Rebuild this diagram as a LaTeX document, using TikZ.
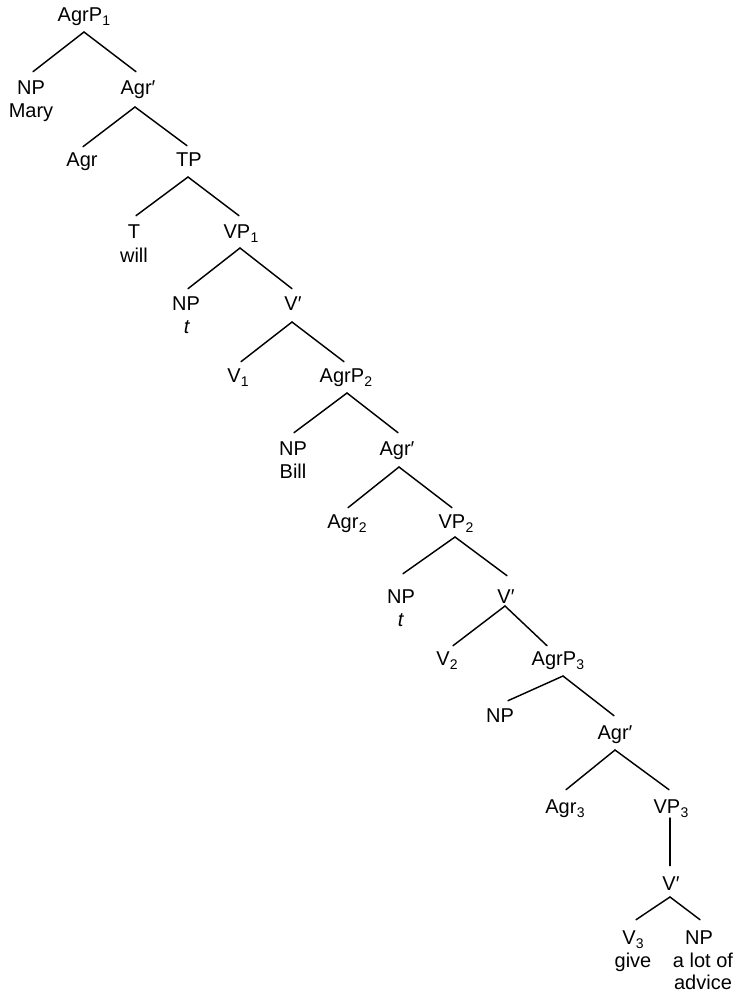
\documentclass[tikz,border=0pt]{standalone}
\usepackage{fontspec}
\setmainfont{Liberation Sans}
\newcommand{\lsub}[1]{\kern0.3pt\raisebox{-4pt}{\fontsize{14}{14}\selectfont #1}}
\begin{document}
\begin{tikzpicture}[x=1pt,y=-1pt,
  cat/.style={font=\fontsize{20}{24}\selectfont, inner sep=0pt, outer sep=0pt,
              text height=14.3pt, text depth=0pt, anchor=base},
  word/.style={font=\fontsize{20}{24}\selectfont, inner sep=0pt, anchor=base},
  branch/.style={line width=1.45pt, line cap=round}]
\useasboundingbox (0,0) rectangle (739,992);

% category labels
\node[cat] (agrp1) at (84,22)  {AgrP\lsub{1}};
\node[cat] (np1)   at (31,95)  {NP};
\node[cat] (agrb1) at (138,95) {Agr′};
\node[cat] (agr1)  at (82,167) {Agr};
\node[cat] (tp)    at (189,167){TP};
\node[cat] (tt)    at (134,238){T};
\node[cat] (vp1)   at (241,238){VP\lsub{1}};
\node[cat] (np2)   at (186,310){NP};
\node[cat] (vb1)   at (293,310){V′};
\node[cat] (v1)    at (238,382){V\lsub{1}};
\node[cat] (agrp2) at (346,382){AgrP\lsub{2}};
\node[cat] (np3)   at (293,455){NP};
\node[cat] (agrb2) at (397,455){Agr′};
\node[cat] (agr2)  at (347,528){Agr\lsub{2}};
\node[cat] (vp2)   at (456,528){VP\lsub{2}};
\node[cat] (np4)   at (401,603){NP};
\node[cat] (vb2)   at (506,603){V′};
\node[cat] (v2)    at (447,665){V\lsub{2}};
\node[cat] (agrp3) at (558,665){AgrP\lsub{3}};
\node[cat] (np5)   at (500,722){NP};
\node[cat] (agrb3) at (615,739){Agr′};
\node[cat] (agr3)  at (565,813){Agr\lsub{3}};
\node[cat] (vp3)   at (671,813){VP\lsub{3}};
\node[cat] (vb3)   at (671,890){V′};
\node[cat] (v3)    at (633,944){V\lsub{3}};
\node[cat] (np6)   at (699,944){NP};

% lexical material under the phrases
\node[word] (mary)   at (31,118)  {Mary};
\node[word] (will)   at (134,262) {will};
\node[word] (trace1) at (187,333) {\textit{t}};
\node[word] (bill)   at (293,478) {Bill};
\node[word] (trace2) at (401,626) {\textit{t}};
\node[word] (give)   at (633,967) {give};
\node[word] (alot)   at (703,967) {a lot of};
\node[word] (advice) at (703,989) {advice};

% branches
\draw[branch] ([yshift=-10pt]agrp1.south) -- ([xshift=2pt,yshift=9pt]np1.north);
\draw[branch] ([yshift=-10pt]agrp1.south) -- ([xshift=-2pt,yshift=9pt]agrb1.north);
\draw[branch] ([xshift=-3pt,yshift=-12pt]agrb1.south) -- ([xshift=1pt,yshift=6pt]agr1.north);
\draw[branch] ([xshift=-3pt,yshift=-12pt]agrb1.south) -- ([xshift=-2pt,yshift=7pt]tp.north);
\draw[branch] ([xshift=-1pt,yshift=-10pt]tp.south) -- ([xshift=2pt,yshift=8pt]tt.north);
\draw[branch] ([xshift=-1pt,yshift=-10pt]tp.south) -- ([xshift=-2pt,yshift=8pt]vp1.north);
\draw[branch] ([xshift=-1pt,yshift=-10pt]vp1.south) -- ([xshift=2pt,yshift=7pt]np2.north);
\draw[branch] ([xshift=-1pt,yshift=-10pt]vp1.south) -- ([xshift=-1pt,yshift=7pt]vb1.north);
\draw[branch] ([xshift=-1pt,yshift=-12pt]vb1.south) -- ([xshift=3pt,yshift=6pt]v1.north);
\draw[branch] ([xshift=-1pt,yshift=-12pt]vb1.south) -- ([xshift=-2pt,yshift=6pt]agrp2.north);
\draw[branch] ([xshift=1pt,yshift=-11pt]agrp2.south) -- ([xshift=1pt,yshift=8pt]np3.north);
\draw[branch] ([xshift=1pt,yshift=-11pt]agrp2.south) -- ([xshift=1pt,yshift=8pt]agrb2.north);
\draw[branch] ([xshift=2pt,yshift=-12pt]agrb2.south) -- ([xshift=1pt,yshift=6pt]agr2.north);
\draw[branch] ([xshift=2pt,yshift=-12pt]agrb2.south) -- ([xshift=-4pt,yshift=6pt]vp2.north);
\draw[branch] ([xshift=-1pt,yshift=-9pt]vp2.south) -- ([xshift=2pt,yshift=15pt]np4.north);
\draw[branch] ([xshift=-1pt,yshift=-9pt]vp2.south) -- ([xshift=1pt,yshift=13pt]vb2.north);
\draw[branch] ([xshift=-1pt,yshift=-3pt]vb2.south) -- ([xshift=6pt,yshift=5pt]v2.north);
\draw[branch] ([xshift=-1pt,yshift=-3pt]vb2.south) -- ([xshift=-11pt,yshift=5pt]agrp3.north);
\draw[branch] ([xshift=5pt,yshift=-11pt]agrp3.south) -- ([xshift=8pt,yshift=7pt]np5.north);
\draw[branch] ([xshift=5pt,yshift=-11pt]agrp3.south) -- ([xshift=-1pt,yshift=9pt]agrb3.north);
\draw[branch] ([yshift=-11pt]agrb3.south) -- ([xshift=1pt,yshift=9pt]agr3.north);
\draw[branch] ([yshift=-11pt]agrb3.south) -- ([xshift=-2pt,yshift=9pt]vp3.north);
\draw[branch] ([xshift=-1pt,yshift=-5pt]vp3.south) -- ([xshift=-1pt,yshift=10pt]vb3.north);
\draw[branch] ([xshift=-1pt,yshift=-7pt]vb3.south) -- ([xshift=3pt,yshift=10pt]v3.north);
\draw[branch] ([xshift=-1pt,yshift=-7pt]vb3.south) -- ([xshift=1pt,yshift=10pt]np6.north);
\end{tikzpicture}
\end{document}
